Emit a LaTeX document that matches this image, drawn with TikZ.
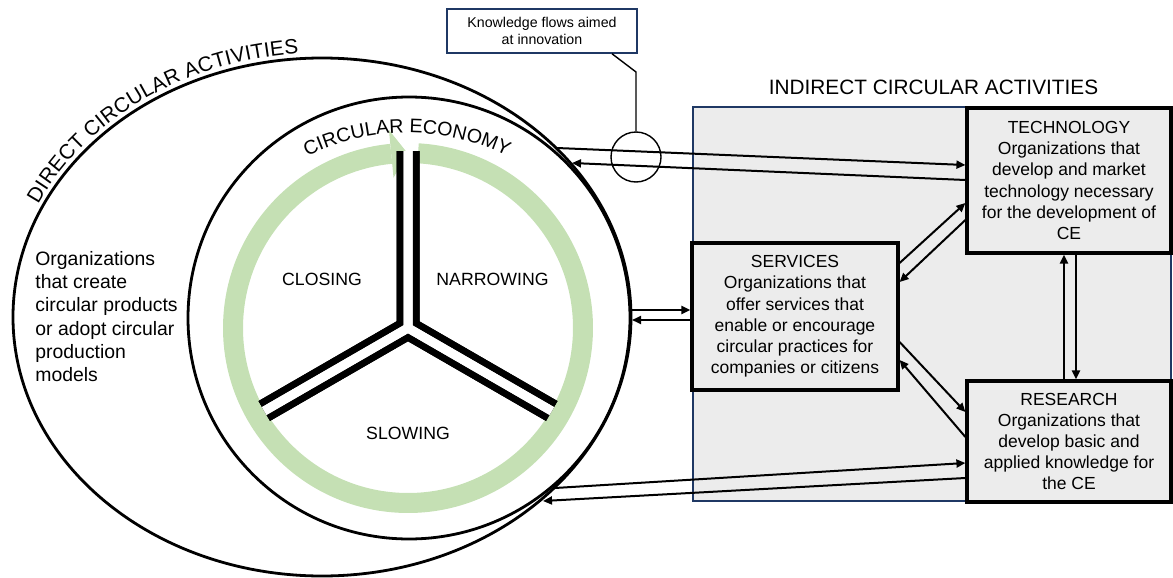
\documentclass[tikz,border=0pt]{standalone}
\usepackage{fontspec}
\setmainfont{Liberation Sans}
\usetikzlibrary{arrows.meta,calc,decorations.text}

\definecolor{navy}{RGB}{31,56,100}
\definecolor{panel}{RGB}{236,236,236}
\definecolor{ringgreen}{RGB}{197,224,180}

\newcommand\boxfont{\fontsize{8.75}{10.6}\selectfont}
\newcommand\titlefont{\fontsize{10.4}{12}\selectfont}
\newcommand\cefont{\fontsize{9.8}{12}\selectfont}
\newcommand\leftfont{\fontsize{9.7}{11.6}\selectfont}
\newcommand\notefont{\fontsize{7.1}{8.5}\selectfont}
\newcommand\sectorfont{\fontsize{8.85}{10.6}\selectfont}

\begin{document}
\begin{tikzpicture}[x=0.5pt,y=0.5pt,
  conn/.style={line width=1pt,-{Triangle[length=4.5pt,width=4pt]}},
  cebox/.style={draw,line width=1.6pt,fill=panel,align=center,inner sep=0pt,font=\boxfont},
  notebox/.style={draw=navy,line width=0.75pt,fill=white,align=center,inner sep=0pt,font=\notefont},
  sector/.style={font=\sectorfont,inner sep=0pt}]
\useasboundingbox (0,0) rectangle (1173,-578);

% direct circular activities and the circular economy
\draw[line width=1.4pt] (322,-317) ellipse [x radius=309, y radius=259];
\draw[line width=1.4pt] (409,-318) circle [radius=221];

% green cycle with its arrowhead
\coordinate (rc) at (408,-328);
\draw[ringgreen,line width=10pt] ($(rc)+(86.7:175)$) arc[start angle=86.7,end angle=-264.5,radius=175];
\fill[ringgreen] ($(rc)+(95.5:151)$) -- ($(rc)+(95.5:199)$) -- ($(rc)+(90.2:175)$) -- cycle;

% three-way double divider
\coordinate (ytop) at ($(rc)+(90:177)$);
\coordinate (yleft) at ($(rc)+(210:166)$);
\coordinate (yright) at ($(rc)+(330:166)$);
\foreach \a/\b in {ytop/yleft,yleft/yright,yright/ytop}
  \draw[line width=11.5pt,line join=miter] (\a) -- (rc) -- (\b);
\foreach \a/\b in {ytop/yleft,yleft/yright,yright/ytop}
  \draw[white,line width=4.5pt,line join=miter] (\a) -- (rc) -- (\b);

% curved titles
\path[decorate,decoration={text along path,text align=center,
  text={|\cefont|CIRCULAR ECONOMY}}]
  ($(407,-360)+(135:227)$) arc[start angle=135,end angle=45,radius=227];
\path[decorate,decoration={text along path,text align=center,raise=2.5pt,
  text={|\titlefont|DIRECT CIRCULAR ACTIVITIES}}]
  ($(322,-317)+(175:309 and 259)$) arc[start angle=175,end angle=77,x radius=309,y radius=259];

% sector labels
\node[sector] (closing) at (322,-279) {CLOSING};
\node[sector] (narrowing) at (492.5,-279) {NARROWING};
\node[sector] (slowing) at (408,-433) {SLOWING};

\node[anchor=north west,align=left,font=\leftfont,inner sep=0pt] (direct) at (35,-251)
  {Organizations\\that create\\circular products\\or adopt circular\\production\\models};

% indirect circular activities panel
\node[anchor=base,font=\titlefont,inner sep=0pt] (indirect) at (933.5,-94.3) {INDIRECT CIRCULAR ACTIVITIES};
\filldraw[fill=panel,draw=navy,line width=1.3pt] (693,-107) rectangle (1171,-501);

\node[cebox,minimum width=102pt,minimum height=72.5pt] (tech) at (1069,-180.5)
  {TECHNOLOGY\\Organizations that\\develop and market\\technology necessary\\for the development of\\CE};
\node[cebox,minimum width=103pt,minimum height=73.5pt] (serv) at (795,-316.5)
  {SERVICES\\Organizations that\\offer services that\\enable or encourage\\circular practices for\\companies or citizens};
\node[cebox,minimum width=102pt,minimum height=60.5pt] (res) at (1069,-441.5)
  {RESEARCH\\Organizations that\\develop basic and\\applied knowledge for\\the CE};

% knowledge flow callout
\node[notebox,minimum width=95pt,minimum height=22pt] (note) at (542,-31)
  {Knowledge flows aimed\\at innovation};
\node[circle,draw,line width=0.7pt,minimum size=25pt,inner sep=0pt] (flow) at (636,-157) {};
\draw[line width=0.7pt] ($(note.south)+(70,0)$) -- (636,-72) -- (flow.north);

% free ends on the direct activities boundary
\coordinate (eTa) at (557,-148);
\coordinate (eTb) at (572,-163);
\coordinate (eSa) at (632,-310);
\coordinate (eSb) at (632,-320);
\coordinate (eRa) at (555,-488);
\coordinate (eRb) at (543,-501);

% connectors
\draw[conn] (eTa) -- ($(tech.west)+(0,15.5)$);
\draw[conn] ($(tech.west)+(0,0.5)$) -- (eTb);
\draw[conn] (eSa) -- ($(serv.west)+(0,6.5)$);
\draw[conn] ($(serv.west)+(0,-3.5)$) -- (eSb);
\draw[conn] (eRa) -- ($(res.west)+(0,-21.5)$);
\draw[conn] ($(res.west)+(0,-36.5)$) -- (eRb);

\draw[conn] ($(serv.east)+(0,53.5)$) -- ($(tech.west)+(0,-22.5)$);
\draw[conn] ($(tech.west)+(0,-39.5)$) -- ($(serv.east)+(0,34.5)$);
\draw[conn] ($(serv.east)+(0,-25.5)$) -- ($(res.west)+(0,29.5)$);
\draw[conn] ($(res.west)+(0,4.5)$) -- ($(serv.east)+(0,-43.5)$);

\draw[conn] ($(res.north)+(-5,0)$) -- ($(tech.south)+(-5,0)$);
\draw[conn] ($(tech.south)+(7,0)$) -- ($(res.north)+(7,0)$);
\end{tikzpicture}
\end{document}
